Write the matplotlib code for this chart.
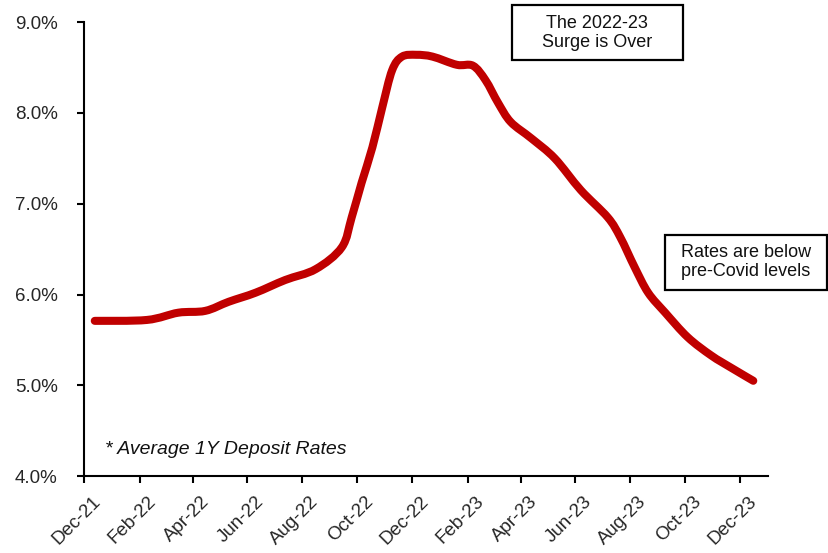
import matplotlib
matplotlib.use("Agg")
import matplotlib.pyplot as plt
import matplotlib.dates as mdates
import matplotlib.transforms as mtransforms
from matplotlib.patches import Rectangle, PathPatch
from matplotlib.path import Path
from matplotlib.ticker import FuncFormatter
import numpy as np
import pandas as pd

plt.rcParams['font.family'] = ['Liberation Sans', 'DejaVu Sans']

# Average 1Y deposit rates (%)
dates = ["2021-12-13", "2022-02-09", "2022-03-16", "2022-04-15", "2022-05-11",
         "2022-06-10", "2022-07-13", "2022-08-16", "2022-09-14", "2022-09-25",
         "2022-10-06", "2022-10-18", "2022-10-29", "2022-11-09", "2022-11-20",
         "2022-12-06", "2022-12-24", "2023-01-20", "2023-02-07", "2023-02-21",
         "2023-03-07", "2023-03-21", "2023-04-13", "2023-05-09", "2023-06-07",
         "2023-07-07", "2023-07-21", "2023-08-06", "2023-08-21", "2023-09-09",
         "2023-10-04", "2023-10-30", "2023-11-22", "2023-12-16"]
rates = [5.71, 5.72, 5.80, 5.82, 5.92,
         6.02, 6.16, 6.28, 6.52, 6.85,
         7.23, 7.62, 8.06, 8.47, 8.62,
         8.64, 8.62, 8.53, 8.52, 8.36,
         8.11, 7.90, 7.72, 7.50, 7.15,
         6.85, 6.63, 6.30, 6.02, 5.80,
         5.53, 5.33, 5.19, 5.05]

tick_dates = pd.date_range("2021-12-01", "2023-12-01", freq="2MS")
yticks = [4, 5, 6, 7, 8, 9]


def smooth_path(xs, ys):
    # Excel-style smoothed line: Catmull-Rom segments drawn as cubic Beziers
    pts = np.column_stack([xs, ys])
    ext = np.vstack([pts[0], pts, pts[-1]])
    verts = [pts[0]]
    codes = [Path.MOVETO]
    for i in range(1, len(ext) - 2):
        p0, p1, p2, p3 = ext[i - 1], ext[i], ext[i + 1], ext[i + 2]
        verts += [p1 + (p2 - p0) / 6, p2 - (p3 - p1) / 6, p2]
        codes += [Path.CURVE4] * 3
    return Path(verts, codes)


x = mdates.date2num(pd.to_datetime(dates))

fig = plt.figure(figsize=(8.29, 5.53), dpi=100)
ax = fig.add_axes([0.1013, 0.139, 0.8247, 0.821])
ax.xaxis_date()

ax.add_patch(PathPatch(smooth_path(x, rates), fill=False, edgecolor='#C00000',
                       lw=5.8, capstyle='round', joinstyle='round'))

ax.set_xlim(pd.Timestamp("2021-12-01"), pd.Timestamp("2024-01-01"))
ax.set_ylim(4, 9)
ax.set_yticks(yticks)
ax.yaxis.set_major_formatter(FuncFormatter(lambda v, p: f"{v:.1f}%"))
ax.set_xticks(tick_dates)
ax.xaxis.set_major_formatter(mdates.DateFormatter("%b-%y"))

for s in ['top', 'right']:
    ax.spines[s].set_visible(False)
for s in ['left', 'bottom']:
    ax.spines[s].set_linewidth(1.5)
    ax.spines[s].set_color('black')

ax.tick_params(axis='both', direction='out', length=5, width=1.5,
               labelsize=13.5, labelcolor='#262626')
ax.tick_params(axis='y', pad=14)
ax.tick_params(axis='x', pad=7)
shift = mtransforms.ScaledTranslation(8 / 100, 0, fig.dpi_scale_trans)
for lab in ax.get_xticklabels():
    lab.set_rotation(45)
    lab.set_ha('right')
    lab.set_rotation_mode('anchor')
    lab.set_transform(lab.get_transform() + shift)

fig.text(105 / 829, 1 - 449 / 553, "* Average 1Y Deposit Rates", style='italic',
         fontsize=14, ha='left', va='center', color='#111111')

# annotation boxes
fig.patches.append(Rectangle((512 / 829, 1 - 60 / 553), 171 / 829, 55 / 553,
                             transform=fig.transFigure, fill=False,
                             edgecolor='black', lw=1.6))
fig.text(597 / 829, 1 - 33 / 553, "The 2022-23\nSurge is Over", ha='center',
         va='center', fontsize=13, linespacing=1.2, color='#111111')

fig.patches.append(Rectangle((665 / 829, 1 - 290 / 553), 162 / 829, 55 / 553,
                             transform=fig.transFigure, fill=False,
                             edgecolor='black', lw=1.6))
fig.text(746 / 829, 1 - 262 / 553, "Rates are below\npre-Covid levels", ha='center',
         va='center', fontsize=13, linespacing=1.2, color='#111111')

fig.savefig("out.png", dpi=100)
